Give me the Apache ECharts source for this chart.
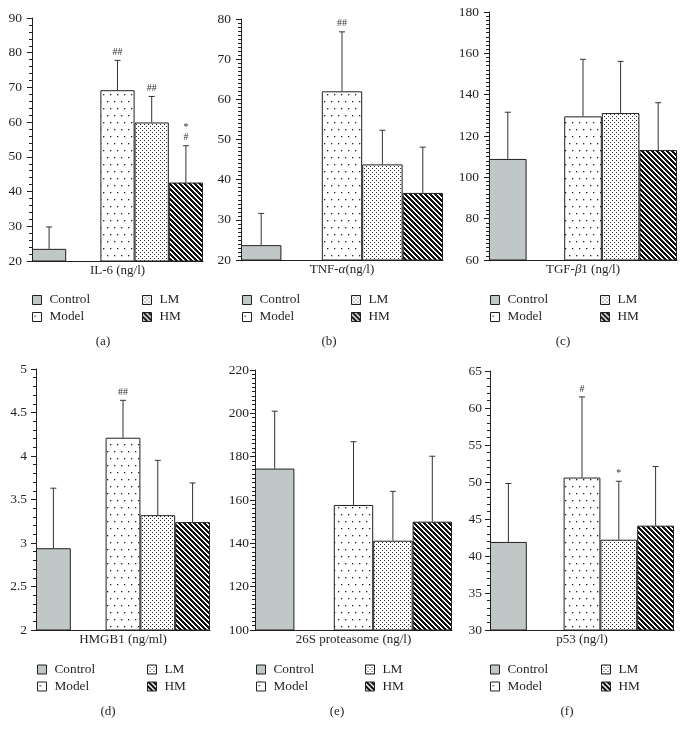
<!DOCTYPE html>
<html>
<head>
<meta charset="utf-8">
<script src="https://cdn.jsdelivr.net/npm/echarts@6/dist/echarts.min.js"></script>
<style>
html,body{margin:0;padding:0;background:#fff;}
#chart{width:685px;height:739px;}
</style>
</head>
<body>
<div id="chart"></div>
<script>
// ---- data ----
const groups = ['Control', 'Model', 'LM', 'HM'];
const slots = ['Control', 'gap', 'Model', 'LM', 'HM'];
const slotOfGroup = [0, 2, 3, 4];

const il6Mean = [23.5, 69.2, 59.9, 42.6];
const il6Sd   = [6.3, 8.6, 7.5, 10.6];
const il6Sig  = ['', '##', '##', '*\n#'];

const tnfMean = [23.7, 62.0, 43.8, 36.7];
const tnfSd   = [7.9, 14.8, 8.5, 11.4];
const tnfSig  = ['', '##', '', ''];

const tgfMean = [108.9, 129.5, 131.1, 113.2];
const tgfSd   = [22.6, 27.6, 25.0, 22.9];
const tgfSig  = ['', '', '', ''];

const hmgbMean = [2.94, 4.21, 3.32, 3.24];
const hmgbSd   = [0.69, 0.43, 0.63, 0.45];
const hmgbSig  = ['', '##', '', ''];

const proMean = [174.5, 157.7, 141.2, 150.0];
const proSd   = [26.5, 29.2, 22.8, 30.2];
const proSig  = ['', '', '', ''];

const p53Mean = [41.9, 50.6, 42.2, 44.1];
const p53Sd   = [7.9, 10.9, 7.9, 8.0];
const p53Sig  = ['', '#', '*', ''];

const axisNames = ['IL-6 (ng/l)', 'TNF-{i|α}(ng/l)', 'TGF-{i|β}1 (ng/l)', 'HMGB1 (ng/ml)', '26S proteasome (ng/l)', 'p53 (ng/l)'];
const panelTags = ['(a)', '(b)', '(c)', '(d)', '(e)', '(f)'];

// ---- styling ----
const FONT = '"Liberation Serif", "DejaVu Serif", serif';
const INK = '#231f20';

function makePattern(w, h, draw) {
  const c = document.createElement('canvas');
  c.width = w; c.height = h;
  const ctx = c.getContext('2d');
  ctx.fillStyle = '#ffffff';
  ctx.fillRect(0, 0, w, h);
  draw(ctx);
  return { image: c, repeat: 'repeat' };
}
const modelFill = makePattern(7, 14, ctx => {
  ctx.fillStyle = '#222';
  ctx.fillRect(2, 3, 1.3, 1.3);
  ctx.fillRect(5, 10, 1.3, 1.3);
});
const lmFill = makePattern(4, 4, ctx => {
  ctx.fillStyle = '#2a2a2a';
  ctx.fillRect(0, 0, 1, 1);
  ctx.fillRect(2, 2, 1, 1);
});
const hmFill = makePattern(5, 5, ctx => {
  ctx.fillStyle = '#111';
  for (let x = 0; x < 5; x++) for (let y = 0; y < 5; y++) {
    if (((x - y) % 5 + 5) % 5 < 3) ctx.fillRect(x, y, 1, 1);
  }
});
const fills = ['#bfc8c6', modelFill, lmFill, hmFill];

const panels = [
  { mean: il6Mean, sd: il6Sd, sig: il6Sig, min: 20, max: 90, interval: 10, minor: 5,
    grid: { left: 32, top: 18, width: 171, height: 243 }, margin: 10, lx: [32, 142], ly: 293, tx: 103, ty: 342 },
  { mean: tnfMean, sd: tnfSd, sig: tnfSig, min: 20, max: 80, interval: 10, minor: 10,
    grid: { left: 241, top: 19, width: 202, height: 241 }, margin: 10, lx: [242, 351], ly: 293, tx: 329, ty: 342 },
  { mean: tgfMean, sd: tgfSd, sig: tgfSig, min: 60, max: 180, interval: 20, minor: 10,
    grid: { left: 489, top: 12, width: 188, height: 248 }, margin: 10, lx: [490, 600], ly: 293, tx: 563, ty: 342 },
  { mean: hmgbMean, sd: hmgbSd, sig: hmgbSig, min: 2, max: 5, interval: 0.5, minor: 5,
    grid: { left: 36, top: 369, width: 174, height: 261 }, margin: 9, lx: [37, 147], ly: 662.5, tx: 108, ty: 712 },
  { mean: proMean, sd: proSd, sig: proSig, min: 100, max: 220, interval: 20, minor: 10,
    grid: { left: 255, top: 370, width: 197, height: 260 }, margin: 6, lx: [256, 365], ly: 662.5, tx: 337, ty: 712 },
  { mean: p53Mean, sd: p53Sd, sig: p53Sig, min: 30, max: 65, interval: 5, minor: 5,
    grid: { left: 490, top: 371, width: 184, height: 259 }, margin: 8, lx: [490, 601], ly: 662.5, tx: 567, ty: 712 }
];

const grid = [], xAxis = [], yAxis = [], series = [], legend = [], graphic = [];

panels.forEach((p, i) => {
  grid.push(Object.assign({ containLabel: false }, p.grid));
  xAxis.push({
    type: 'category', gridIndex: i, data: slots,
    axisLine: { show: true, lineStyle: { color: INK, width: 1 } },
    axisTick: { show: false }, axisLabel: { show: false },
    splitLine: { show: false },
    name: axisNames[i], nameLocation: 'middle', nameGap: 3,
    nameTextStyle: { fontFamily: FONT, fontSize: 13, color: INK,
      rich: { i: { fontStyle: 'italic', fontFamily: FONT, fontSize: 13, color: INK } } }
  });
  yAxis.push({
    type: 'value', gridIndex: i, min: p.min, max: p.max, interval: p.interval,
    axisLine: { show: true, lineStyle: { color: INK, width: 1 } },
    axisTick: { show: true, inside: false, length: 5, lineStyle: { color: INK } },
    minorTick: { show: true, splitNumber: p.minor, length: 3, lineStyle: { color: INK } },
    splitLine: { show: false },
    axisLabel: { fontFamily: FONT, fontSize: 13.5, color: INK, margin: p.margin }
  });
  groups.forEach((g, k) => {
    series.push({
      type: 'bar', name: g, xAxisIndex: i, yAxisIndex: i,
      data: slots.map((s, j) => j === slotOfGroup[k] ? p.mean[k] : null),
      barWidth: '100%', barGap: '-100%',
      itemStyle: { color: fills[k], borderColor: INK, borderWidth: 1 },
      emphasis: { disabled: true }, animation: false
    });
  });
  const sigs = p.sig;
  series.push({
    type: 'custom', name: 'err' + i, xAxisIndex: i, yAxisIndex: i,
    data: groups.map((g, k) => [slotOfGroup[k], p.mean[k], p.sd[k]]),
    renderItem: (params, api) => {
      const x = api.value(0), m = api.value(1), s = api.value(2);
      const a = api.coord([x, m]);
      const b = api.coord([x, m + s]);
      const st = { stroke: '#333', lineWidth: 1 };
      const children = [
        { type: 'line', shape: { x1: a[0], y1: a[1], x2: b[0], y2: b[1] }, style: st },
        { type: 'line', shape: { x1: b[0] - 3, y1: b[1], x2: b[0] + 3, y2: b[1] }, style: st }
      ];
      const t = sigs[params.dataIndex];
      if (t) {
        children.push({ type: 'text', x: b[0], y: b[1] - 3,
          style: { text: t, fill: '#333', font: '10px ' + FONT, lineHeight: 10,
            align: 'center', verticalAlign: 'bottom' } });
      }
      return { type: 'group', children };
    },
    z: 5, animation: false, silent: true
  });
  const cols = [['Control', 'Model'], ['LM', 'HM']];
  cols.forEach((names, c) => {
    legend.push({
      orient: 'vertical', left: p.lx[c], top: p.ly, data: names,
      icon: 'rect', itemWidth: 9, itemHeight: 9, itemGap: 3, padding: 0,
      selectedMode: false,
      itemStyle: { borderColor: INK, borderWidth: 1 },
      textStyle: { fontFamily: FONT, fontSize: 13.3, color: INK, lineHeight: 14, padding: [0, 0, 0, 3] }
    });
  });
  graphic.push({ type: 'text', x: p.tx, y: p.ty,
    style: { text: panelTags[i], font: '13px ' + FONT, fill: INK, align: 'center', verticalAlign: 'middle' } });
});

const chart = echarts.init(document.getElementById('chart'), null, { renderer: 'canvas' });
chart.setOption({
  backgroundColor: '#ffffff',
  animation: false,
  grid, xAxis, yAxis, series, legend, graphic
});
</script>
</body>
</html>
